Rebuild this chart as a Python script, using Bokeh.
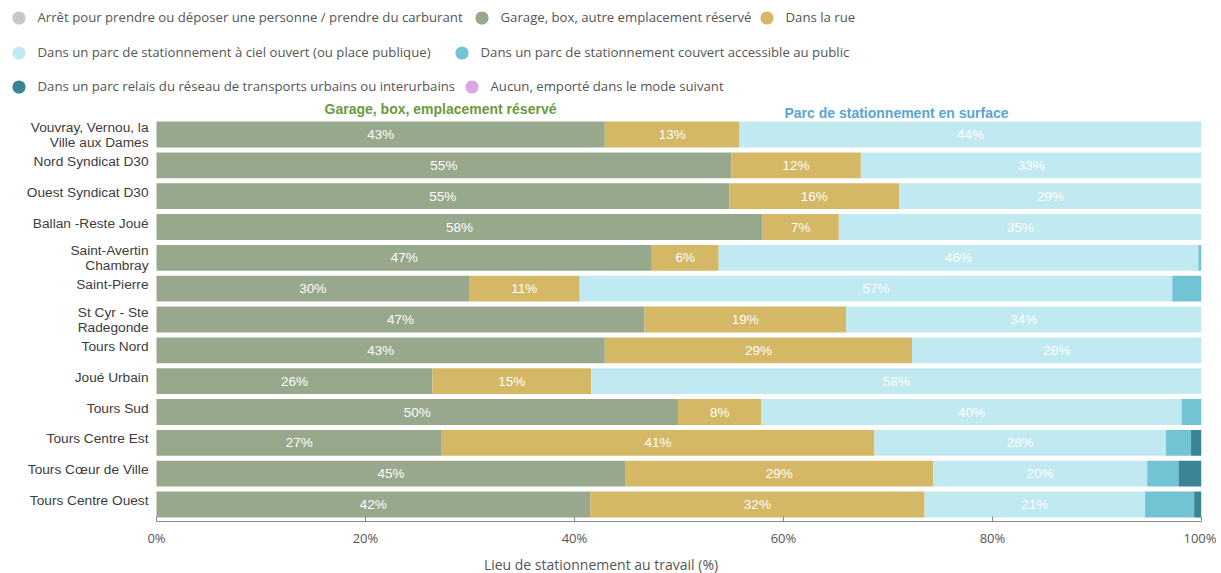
import numpy as np
from bokeh.plotting import figure
from bokeh.models import (ColumnDataSource, Range1d, FixedTicker,
                          PrintfTickFormatter, Legend, LegendItem, Label)
from bokeh.core.properties import value
from bokeh.embed import file_html
from bokeh.resources import INLINE

# ---------------- data ----------------
categories = [
    "Vouvray, Vernou, la\nVille aux Dames",
    "Nord Syndicat D30",
    "Ouest Syndicat D30",
    "Ballan -Reste Joué",
    "Saint-Avertin\nChambray",
    "Saint-Pierre",
    "St Cyr - Ste\nRadegonde",
    "Tours Nord",
    "Joué Urbain",
    "Tours Sud",
    "Tours Centre Est",
    "Tours Cœur de Ville",
    "Tours Centre Ouest",
]
arret   = [0, 0, 0, 0, 0, 0, 0, 0, 0, 0, 0, 0, 0]
garage  = [42.9, 55.0, 54.8, 58.0, 47.4, 29.9, 46.7, 42.9, 26.4, 49.9, 27.3, 44.9, 41.5]
rue     = [12.9, 12.4, 16.3, 7.3, 6.4, 10.6, 19.3, 29.4, 15.2, 8.0, 41.4, 29.4, 32.0]
ciel    = [44.2, 32.6, 28.9, 34.7, 45.9, 56.7, 34.0, 27.7, 58.4, 40.2, 27.9, 20.5, 21.1]
couvert = [0, 0, 0, 0, 0.3, 2.8, 0, 0, 0, 1.9, 2.4, 3.0, 4.7]
relais  = [0, 0, 0, 0, 0, 0, 0, 0, 0, 0, 1.0, 2.2, 0.7]
aucun   = [0, 0, 0, 0, 0, 0, 0, 0, 0, 0, 0, 0, 0]

series_keys = ["arret", "garage", "rue", "ciel", "couvert", "relais", "aucun"]
series_labels = [
    "Arrêt pour prendre ou déposer une personne / prendre du carburant",
    "Garage, box, autre emplacement réservé",
    "Dans la rue",
    "Dans un parc de stationnement à ciel ouvert (ou place publique)",
    "Dans un parc de stationnement couvert accessible au public",
    "Dans un parc relais du réseau de transports urbains ou interurbains",
    "Aucun, emporté dans le mode suivant",
]
colors = ["#c8c8c8", "#97a88c", "#d4b866", "#c0e9f1", "#72c4d5", "#3a8496", "#dca6e2"]
x_ticks = [0, 20, 40, 60, 80, 100]

group_titles = ["Garage, box, emplacement réservé", "Parc de stationnement en surface"]

# ---------------- layout (picture pixels) ----------------
ZERO_X, HUNDRED_X = 156, 1201
FRAME_BOTTOM = 521
ROW_TOP_C, ROW_BOT_C = 134, 504          # centres of first / last bar rows
WIDTH = 1216

px_per_pct = (HUNDRED_X - ZERO_X) / 100.0
x_start = -ZERO_X / px_per_pct
n = len(categories)
px_per_row = (ROW_BOT_C - ROW_TOP_C) / (n - 1)
y_bottom = -(FRAME_BOTTOM - ROW_BOT_C) / px_per_row
y_top = (n - 1) + ROW_TOP_C / px_per_row

ypos = [n - 1 - i for i in range(n)]

source = ColumnDataSource(dict(cat=categories, y=ypos, arret=arret, garage=garage, rue=rue,
                               ciel=ciel, couvert=couvert, relais=relais, aucun=aucun))

p = figure(frame_width=HUNDRED_X, frame_height=FRAME_BOTTOM,
           output_backend="svg", toolbar_location=None,
           x_range=Range1d(x_start, 100), y_range=Range1d(y_bottom, y_top),
           y_axis_type=None,
           min_border_left=0, min_border_right=WIDTH - HUNDRED_X,
           min_border_top=0, min_border_bottom=0)
p.outline_line_color = None
p.xgrid.grid_line_color = None
p.ygrid.grid_line_color = None

p.hbar_stack(series_keys, y="y", height=0.84, color=colors, source=source,
             line_color=None)

# category labels (left of 0 %); single-line labels sit a little high, as in the reference
p.text(x=[0] * n, y=ypos, text=categories, x_offset=-8,
       y_offset=[0 if "\n" in c else -4 for c in categories],
       text_color="#3c3c3c", text_font=value("Liberation Sans"), text_font_size="13.7px",
       text_align="right", text_baseline="middle", text_line_height=1.0)

# percent labels inside segments
data = {"garage": np.array(garage), "rue": np.array(rue), "ciel": np.array(ciel)}
left = np.array(arret, dtype=float)
for key in ["garage", "rue", "ciel"]:
    vals = data[key]
    centers = left + vals / 2
    p.text(x=list(centers), y=ypos, text=[f"{round(v)}%" for v in vals],
           text_color="white", text_font=value("Liberation Sans"), text_font_size="13.5px",
           text_align="center", text_baseline="middle")
    left = left + vals

# x axis
xa = p.xaxis[0]
xa.bounds = (0, 100)
xa.ticker = FixedTicker(ticks=x_ticks)
xa.formatter = PrintfTickFormatter(format="%d%%")
xa.axis_line_color = "#8a8a8a"
xa.major_tick_line_color = "#8a8a8a"
xa.major_tick_in = 5
xa.major_tick_out = 0
xa.minor_tick_line_color = None
xa.major_label_text_font = "Open Sans"
xa.major_label_text_font_size = "13px"
xa.major_label_text_color = "#555555"
xa.major_label_standoff = 7
xa.axis_label = "Lieu de stationnement au travail (%)"
xa.axis_label_text_font = "Open Sans"
xa.axis_label_text_font_size = "14px"
xa.axis_label_text_font_style = "normal"
xa.axis_label_text_color = "#555555"
xa.axis_label_standoff = 5

# legend: one legend per item, placed like the reference's flowing legend
dummies = [p.scatter(x=[x_start - 50], y=[y_bottom - 50], marker="circle", size=13,
                     color=c, line_color=None) for c in colors]
GW = 33          # legend glyph box (circle drawn at 0.4 of it)
centres = [(18, 17), (481, 17), (766, 17), (18, 52), (461, 52), (18, 86), (471, 86)]
for r, lab, (cx, cy) in zip(dummies, series_labels, centres):
    leg = Legend(items=[LegendItem(label=lab, renderers=[r])],
                 location=(cx - GW / 2, FRAME_BOTTOM - (cy + GW / 2)),
                 orientation="horizontal", glyph_width=GW, glyph_height=GW,
                 label_standoff=3, padding=0, margin=0, spacing=0,
                 border_line_color=None, background_fill_alpha=0,
                 label_text_font="Open Sans", label_text_font_size="13.2px",
                 label_text_color="#555555", label_height=18)
    p.add_layout(leg, "center")

# group titles
p.add_layout(Label(x=(440 - ZERO_X) / px_per_pct, y=FRAME_BOTTOM - 108,
                   x_units="data", y_units="screen", text=group_titles[0],
                   text_font="Liberation Sans", text_font_style="bold", text_font_size="14px",
                   text_color="#6a9a3e", text_align="center", text_baseline="middle"))
p.add_layout(Label(x=(896 - ZERO_X) / px_per_pct, y=FRAME_BOTTOM - 112,
                   x_units="data", y_units="screen", text=group_titles[1],
                   text_font="Liberation Sans", text_font_style="bold", text_font_size="14px",
                   text_color="#5aa5d4", text_align="center", text_baseline="middle"))

open("out.html", "w").write(file_html(p, INLINE))
